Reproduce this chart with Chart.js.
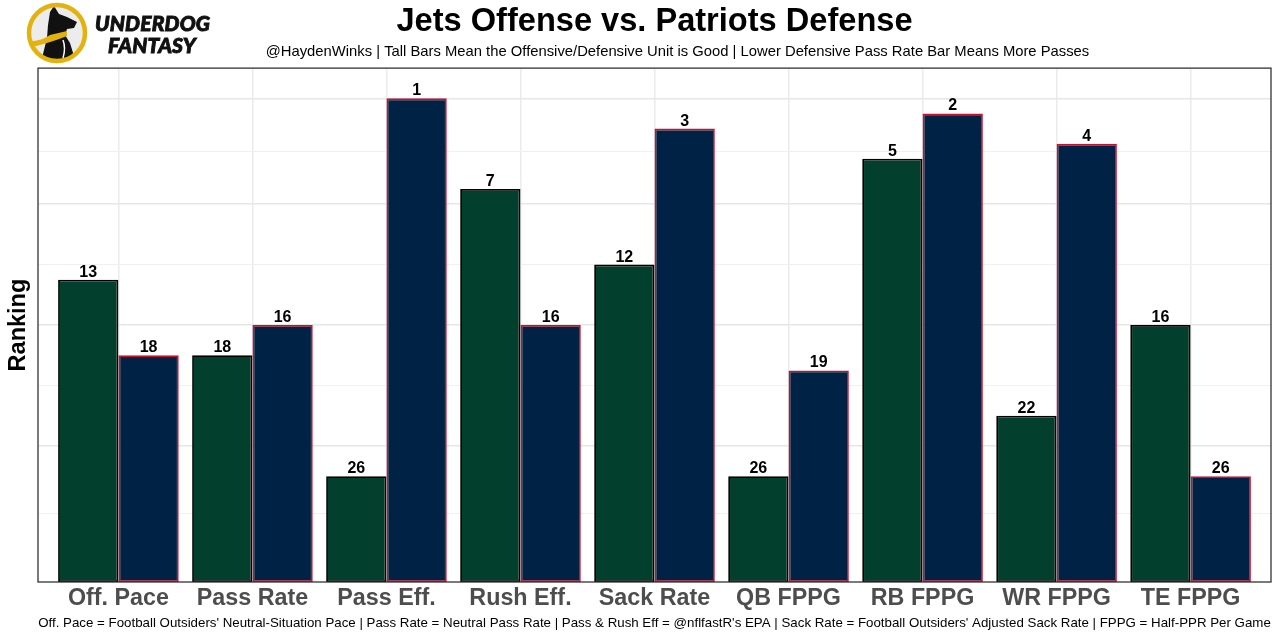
<!DOCTYPE html>
<html><head><meta charset="utf-8">
<script src="https://cdn.jsdelivr.net/npm/chart.js@4.4.0/dist/chart.umd.min.js"></script>
<style>
html,body{margin:0;padding:0;background:#fff;}
#wrap{position:relative;width:1280px;height:640px;overflow:hidden;}
#c{position:absolute;left:0;top:0;}
.lt{position:absolute;font-family:Lato,"Liberation Sans",sans-serif;font-weight:900;font-style:italic;color:#111;letter-spacing:0.2px;line-height:1;-webkit-text-stroke:0.9px #111;}
</style></head><body>
<div id="wrap">
<canvas id="c" width="1280" height="640"></canvas>
<svg width="70" height="68" style="position:absolute;left:22px;top:0" viewBox="22 0 70 68">
  <defs><clipPath id="cc"><circle cx="57" cy="33" r="28"/></clipPath></defs>
  <circle cx="57" cy="33" r="28" fill="#ececec"/>
  <g clip-path="url(#cc)">
    <path d="M50,12 L54,6 L59,14 L67,17 L77,22 L74,28 L67,29 L65,35 L70,43 L74,56 L76,66 L40,66 L44,50 L47,38 L48,25 Z" fill="#111"/>
    <path d="M26,42 Q42,41 50,35 L67,31 L67,36 Q50,43 28,48 Z" fill="#e3b20d"/>
    <path d="M63,40 Q66,48 63,58" stroke="#fff" stroke-width="1.5" fill="none"/>
  </g>
  <circle cx="57" cy="33" r="28" fill="none" stroke="#e3b20d" stroke-width="4.5"/>
</svg>
<div class="lt" style="left:95px;top:12px;font-size:21px">UNDERDOG</div>
<div class="lt" style="left:108px;top:34px;font-size:21px">FANTASY</div>
</div>
<script>
const categories = ['Off. Pace','Pass Rate','Pass Eff.','Rush Eff.','Sack Rate','QB FPPG','RB FPPG','WR FPPG','TE FPPG'];
const jetsOffenseRank = [13,18,26,7,12,26,5,22,16];
const patriotsDefenseRank = [18,16,1,16,3,19,2,4,26];
const seriesNames = ['Jets Offense','Patriots Defense'];
const majorGridRanks = [1,8,16,24];
const minorGridRanks = [4.5,12,20,28.5];
const rankBase = 33;   // bar height = rankBase - rank (tall bar = good)
const titleText = 'Jets Offense vs. Patriots Defense';
const subtitleText = '@HaydenWinks | Tall Bars Mean the Offensive/Defensive Unit is Good | Lower Defensive Pass Rate Bar Means More Passes';
const captionText = "Off. Pace = Football Outsiders' Neutral-Situation Pace | Pass Rate = Neutral Pass Rate | Pass & Rush Eff = @nflfastR's EPA | Sack Rate = Football Outsiders' Adjusted Sack Rate | FPPG = Half-PPR Per Game";

const FONT = '"Liberation Sans", Arial, Helvetica, sans-serif';
Chart.defaults.font.family = FONT;

const toHeight = r => rankBase - r;
const rankSeries = [jetsOffenseRank, patriotsDefenseRank];
const majorVals = majorGridRanks.map(toHeight);
const minorVals = minorGridRanks.map(toHeight);

const labelPlugin = {
  id: 'rankLabels',
  afterDatasetsDraw(chart) {
    const ctx = chart.ctx;
    ctx.save();
    ctx.font = 'bold 16px ' + FONT;
    ctx.fillStyle = '#000';
    ctx.textAlign = 'center';
    ctx.textBaseline = 'alphabetic';
    chart.data.datasets.forEach((ds, di) => {
      chart.getDatasetMeta(di).data.forEach((bar, i) => {
        ctx.fillText(String(rankSeries[di][i]), bar.x, bar.y - 3);
      });
    });
    ctx.restore();
  }
};
const subtitlePlugin = {
  id: 'subtitleText',
  afterDraw(chart) {
    const ctx = chart.ctx, a = chart.chartArea;
    ctx.save();
    ctx.font = '14.8px ' + FONT;
    ctx.fillStyle = '#000';
    ctx.textAlign = 'center';
    ctx.textBaseline = 'middle';
    ctx.fillText(subtitleText, (a.left + a.right) / 2 + 23, 51.5);
    ctx.restore();
  }
};
const borderPlugin = {
  id: 'panelBorder',
  afterDraw(chart) {
    const a = chart.chartArea, ctx = chart.ctx;
    ctx.save();
    ctx.strokeStyle = '#333';
    ctx.lineWidth = 1.3;
    ctx.strokeRect(a.left, a.top, a.right - a.left, a.bottom - a.top);
    ctx.restore();
  }
};

new Chart(document.getElementById('c'), {
  type: 'bar',
  data: {
    datasets: [
      { label: seriesNames[0], data: jetsOffenseRank.map((r, i) => ({x: i + 1, y: toHeight(r)})),
        backgroundColor: '#033f2d', borderColor: '#000000', borderWidth: 1.8, borderSkipped: false },
      { label: seriesNames[1], data: patriotsDefenseRank.map((r, i) => ({x: i + 1, y: toHeight(r)})),
        backgroundColor: '#002244', borderColor: '#c8102e', borderWidth: 1.8, borderSkipped: false }
    ]
  },
  options: {
    responsive: false,
    animation: false,
    devicePixelRatio: 1,
    layout: { padding: { left: 0, right: 9, top: 0, bottom: 0 } },
    datasets: { bar: { categoryPercentage: 0.9, barPercentage: 1.0 } },
    plugins: {
      legend: { display: false },
      tooltip: { enabled: false },
      title: { display: true, text: titleText, fullSize: false, color: '#000',
        font: { size: 32.6, weight: 'bold' }, padding: { top: 2, bottom: 27 } },
      subtitle: { display: false }
    },
    scales: {
      x: {
        type: 'linear', min: 0.4, max: categories.length + 0.6, offset: false,
        afterBuildTicks: s => { s.ticks = categories.map((c, i) => ({ value: i + 1 })); },
        afterFit: s => { s.height = 58; },
        ticks: { autoSkip: false, maxRotation: 0, padding: 3, color: '#4d4d4d',
          font: { size: 23.3, weight: 'bold' },
          callback: v => categories[Math.round(v) - 1] },
        grid: { color: '#ebebeb', lineWidth: 1.5, drawTicks: false, offset: false },
        border: { display: false },
        title: { display: true, text: captionText, color: '#000', font: { size: 13.3 },
          padding: { top: 0, bottom: 9 } }
      },
      y: {
        min: 0, max: 34,
        afterBuildTicks: s => { s.ticks = majorVals.concat(minorVals).map(v => ({ value: v })); },
        afterFit: s => { s.width = 38; },
        ticks: { display: false },
        grid: {
          drawTicks: false,
          color: c => majorVals.includes(c.tick.value) ? '#e6e6e6' : '#f0f0f0',
          lineWidth: c => majorVals.includes(c.tick.value) ? 1.6 : 1.1
        },
        border: { display: false },
        title: { display: true, text: 'Ranking', color: '#000', font: { size: 23.5, weight: 'bold' },
          padding: { top: 4, bottom: 0 } }
      }
    }
  },
  plugins: [labelPlugin, subtitlePlugin, borderPlugin]
});
</script>
</body></html>
